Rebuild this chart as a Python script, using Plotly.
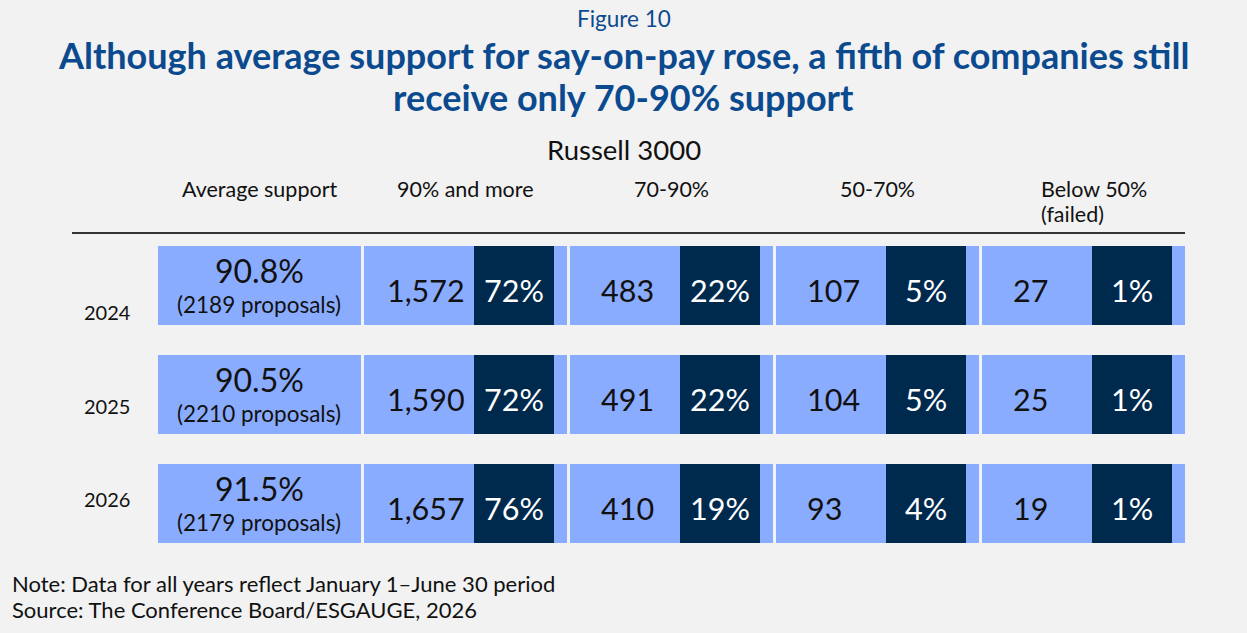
import plotly.graph_objects as go

# ---------------- data ----------------
years = ["2024", "2025", "2026"]
avg_support = ["90.8%", "90.5%", "91.5%"]
proposals = [2189, 2210, 2179]

bucket_labels = ["90% and more", "70-90%", "50-70%", "Below 50%<br>(failed)"]
cnt_90_plus = [1572, 1590, 1657]
cnt_70_90 = [483, 491, 410]
cnt_50_70 = [107, 104, 93]
cnt_below_50 = [27, 25, 19]
pct_90_plus = [72, 72, 76]
pct_70_90 = [22, 22, 19]
pct_50_70 = [5, 5, 4]
pct_below_50 = [1, 1, 1]

counts = [cnt_90_plus, cnt_70_90, cnt_50_70, cnt_below_50]
pcts = [pct_90_plus, pct_70_90, pct_50_70, pct_below_50]

# ---------------- layout constants (pixel-like axis units) ----------------
W, H = 1247, 633
COL0, STEP, COLW = 158, 206, 202.5
ROW0, ROWSTEP, ROWH = 285.5, 109, 79
DARK_OFF, DARK_W = 110, 80
NUM_OFF = [21, 29, 29, 29]
YEAR_X, YEAR_Y0, YEAR_STEP = 107, 312, 93.5

LIGHT = "#8AACFF"
DARK = "#002A4D"
BG = "#F2F2F2"
TITLE_C = "#0B4A8E"
FONT = "Lato"

def col_start(k):
    return COL0 + k * STEP

def row_c(i):
    return ROW0 + i * ROWSTEP

fig = go.Figure()

# light cells (average column + 4 buckets)
lb, lx, ly = [], [], []
for k in range(5):
    for i in range(len(years)):
        lb.append(col_start(k)); lx.append(COLW); ly.append(row_c(i))
fig.add_trace(go.Bar(orientation="h", base=lb, x=lx, y=ly, width=ROWH,
                     marker=dict(color=LIGHT, line=dict(width=0)),
                     hoverinfo="skip", showlegend=False))

# dark percentage cells
db, dx, dy = [], [], []
for k in range(1, 5):
    for i in range(len(years)):
        db.append(col_start(k) + DARK_OFF); dx.append(DARK_W); dy.append(row_c(i))
fig.add_trace(go.Bar(orientation="h", base=db, x=dx, y=dy, width=ROWH,
                     marker=dict(color=DARK, line=dict(width=0)),
                     hoverinfo="skip", showlegend=False))

ann = []
def A(x, y, text, size, color="#111111", xanchor="center", yanchor="middle",
      bold=False, align="center"):
    ann.append(dict(x=x, y=y, xref="x", yref="y",
                    text=("<b>%s</b>" % text) if bold else text,
                    showarrow=False, xanchor=xanchor, yanchor=yanchor, align=align,
                    font=dict(family=FONT, size=size, color=color)))

# average support column
for i in range(len(years)):
    cx = col_start(0) + COLW / 2
    A(cx, row_c(i) - 15, avg_support[i], 32)
    A(cx, row_c(i) + 19, "(%d proposals)" % proposals[i], 22.5)

# counts and percentages
for k in range(4):
    for i in range(len(years)):
        A(col_start(k + 1) + NUM_OFF[k], row_c(i) + 4, "{:,}".format(counts[k][i]), 30.5,
          xanchor="left")
        A(col_start(k + 1) + DARK_OFF + DARK_W / 2, row_c(i) + 4, "%d%%" % pcts[k][i], 30.5,
          color="white")

# year labels
for i, y in enumerate(years):
    A(YEAR_X, YEAR_Y0 + i * YEAR_STEP, y, 20)

# headers
HDR_Y, HDR_LS = 189, 25
A(col_start(0) + COLW / 2, HDR_Y, "Average support", 21.5)
for k, lab in enumerate(bucket_labels):
    lines = lab.split("<br>")
    for j, line in enumerate(lines):
        if k < 3:
            A(col_start(k + 1) + COLW / 2, HDR_Y + j * HDR_LS, line, 21.5)
        else:
            A(col_start(k + 1) + 57, HDR_Y + j * HDR_LS, line, 21.5, xanchor="left")

# titles
A(W / 2, 18, "Figure 10", 22.5, color=TITLE_C)
A(W / 2, 55, "Although average support for say-on-pay rose, a fifth of companies still", 36,
  color=TITLE_C, bold=True)
A(W / 2, 97, "receive only 70-90% support", 36, color=TITLE_C, bold=True)
A(W / 2, 149, "Russell 3000", 27.5)

# notes
A(10, 583, "Note: Data for all years reflect January 1\u2013June 30 period", 22, xanchor="left")
A(10, 609, "Source: The Conference Board/ESGAUGE, 2026", 22, xanchor="left")

fig.add_shape(type="line", xref="x", yref="y", x0=72, x1=1185, y0=233, y1=233,
              line=dict(color="#333333", width=2))

fig.update_layout(
    width=W, height=H, autosize=False,
    margin=dict(l=0, r=0, t=0, b=0, pad=0),
    paper_bgcolor=BG, plot_bgcolor=BG,
    barmode="overlay", bargap=0,
    annotations=ann,
    xaxis=dict(range=[0, W], visible=False, fixedrange=True),
    yaxis=dict(range=[H, 0], visible=False, fixedrange=True),
    font=dict(family=FONT),
)

fig.write_html("out.html", config={"displayModeBar": False},
               post_script="document.body.style.margin='0';")
